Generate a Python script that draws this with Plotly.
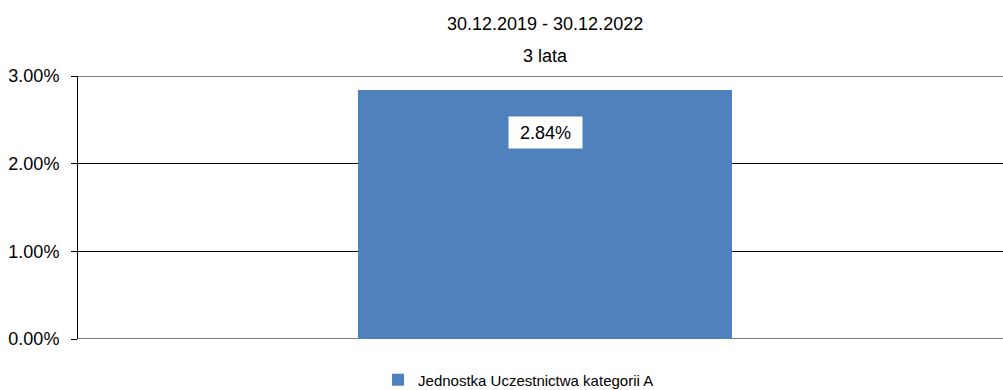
import plotly.graph_objects as go

# Chart data
categories = ["Jednostka Uczestnictwa kategorii A"]
values = [2.84]
series_name = "Jednostka Uczestnictwa kategorii A"
title_lines = ["30.12.2019 - 30.12.2022", "3 lata"]
y_ticks = [0, 1, 2, 3]
y_tick_labels = ["0.00%", "1.00%", "2.00%", "3.00%"]

FONT = "Liberation Sans, Arial, sans-serif"
BAR_COLOR = "#4F81BD"

W, H = 1003, 390
ML, MR, MT, MB = 78, 0, 76, 51
plot_w = W - ML - MR
plot_h = H - MT - MB
# the category slot is 934 px wide; the visible plot area shows 925 px of it
slot_px = 934
x_range = [-0.5, -0.5 + plot_w / slot_px]
cx_paper = (0.5 * slot_px) / plot_w

fig = go.Figure()
fig.add_trace(go.Bar(
    x=[0],
    y=values,
    width=0.40,
    name=series_name,
    marker=dict(color=BAR_COLOR, line=dict(width=0)),
    showlegend=True,
))

# value labels in white boxes
for i, v in enumerate(values):
    fig.add_annotation(
        x=i, y=v, xref="x", yref="y",
        text=f"{v:.2f}%",
        showarrow=False,
        yanchor="middle",
        yshift=-42,
        width=71, height=29,
        bgcolor="white",
        font=dict(family=FONT, size=18, color="black"),
    )

# two-line heading
for text, ypx in zip(title_lines, [24, 56]):
    fig.add_annotation(
        x=cx_paper, y=(H - MB - ypx) / plot_h,
        xref="paper", yref="paper",
        text=text, showarrow=False,
        xanchor="center", yanchor="middle",
        font=dict(family=FONT, size=18, color="black"),
    )

# horizontal lines at the outer ticks of the value axis (grid omits range ends)
for t in (y_ticks[0], y_ticks[-1]):
    fig.add_shape(
        type="line", xref="paper", yref="y",
        x0=0, x1=1, y0=t, y1=t,
        line=dict(color="black", width=1),
        layer="below",
    )

fig.update_layout(
    width=W, height=H,
    margin=dict(l=ML, r=MR, t=MT, b=MB, pad=0, autoexpand=False),
    paper_bgcolor="white",
    plot_bgcolor="white",
    font=dict(family=FONT, size=18, color="black"),
    bargap=0,
    legend=dict(
        orientation="h",
        x=cx_paper - 0.0286, xanchor="center",
        y=-(380 - (H - MB)) / plot_h, yanchor="middle",
        font=dict(family=FONT, size=15, color="black"),
        bgcolor="rgba(0,0,0,0)",
    ),
    xaxis=dict(
        range=x_range,
        showticklabels=False,
        showgrid=False,
        zeroline=False,
        showline=False,
        ticks="",
        fixedrange=True,
    ),
    yaxis=dict(
        range=[y_ticks[0], y_ticks[-1]],
        tickvals=y_ticks,
        ticktext=y_tick_labels,
        showgrid=True,
        gridcolor="black",
        gridwidth=1,
        zeroline=False,
        showline=True,
        linecolor="black",
        linewidth=1,
        ticks="outside",
        ticklen=6,
        tickcolor="black",
        ticklabelstandoff=8,
        tickfont=dict(family=FONT, size=18, color="black"),
        fixedrange=True,
    ),
)

fig.write_html("out.html")
